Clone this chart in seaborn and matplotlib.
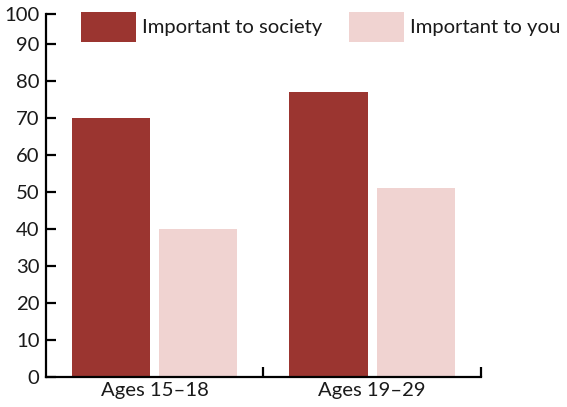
import matplotlib
matplotlib.use("Agg")
import matplotlib.pyplot as plt
import seaborn as sns
import pandas as pd

categories = ["Ages 15–18", "Ages 19–29"]
series_names = ["Important to society", "Important to you"]
society = [70, 77]
you = [40, 51]
colors = ["#9B3530", "#F0D3D1"]
ytick_vals = [0, 10, 20, 30, 40, 50, 60, 70, 80, 90]
ytick_labels = ["0", "10", "20", "30", "40", "50", "60", "70", "80", "90", "100"]

df = pd.DataFrame({
    "cat": categories * 2,
    "series": [series_names[0]] * 2 + [series_names[1]] * 2,
    "value": society + you,
})

sns.set_style("white")
plt.rcParams["font.family"] = ["Lato", "DejaVu Sans"]

W, H = 567, 407
fig = plt.figure(figsize=(W / 100, H / 100), dpi=100)
left, right, bottom, top = 45.7, 481, 376.7, 14.3
ax = fig.add_axes([left / W, 1 - bottom / H, (right - left) / W, (bottom - top) / H])

sns.barplot(data=df, x="cat", y="value", hue="series", palette=colors,
            width=0.8, gap=0.1, saturation=1, ax=ax, linewidth=0)

ymax = 98.05
ax.set_ylim(0, ymax)
ax.set_xlim(-0.5, 1.5)
ax.set_yticks(ytick_vals + [ymax])
ax.set_yticklabels(ytick_labels)
ax.set_xlabel("")
ax.set_ylabel("")

for s in ["top", "right"]:
    ax.spines[s].set_visible(False)
for s in ["left", "bottom"]:
    ax.spines[s].set_color("black")
    ax.spines[s].set_linewidth(1.6)

fs = 14.6
ax.tick_params(axis="y", direction="in", length=7.5, width=1.6, colors="black",
               labelsize=fs, pad=4.5, left=True)
ax.tick_params(axis="x", which="major", length=0, labelsize=fs, pad=4, colors="black")
ax.set_xticks([0.5, 1.5], minor=True)
ax.tick_params(axis="x", which="minor", direction="in", length=7, width=1.6,
               colors="black", bottom=True)
for t in ax.get_xticklabels() + ax.get_yticklabels():
    t.set_color("#1a1a1a")

handles, labels = ax.get_legend_handles_labels()
fpx = fs * 100 / 72
hh = (30 / fpx - 0.245) / 0.65
ax.legend(handles, labels, loc="upper left", ncol=2, frameon=False,
          bbox_to_anchor=(81 / W, 1 - 12 / H), bbox_transform=fig.transFigure,
          borderpad=0, borderaxespad=0, fontsize=fs, handlelength=55 / fpx,
          handleheight=hh, handletextpad=6 / fpx, columnspacing=27 / fpx,
          labelcolor="#1a1a1a")

fig.savefig("out.png", dpi=100)
